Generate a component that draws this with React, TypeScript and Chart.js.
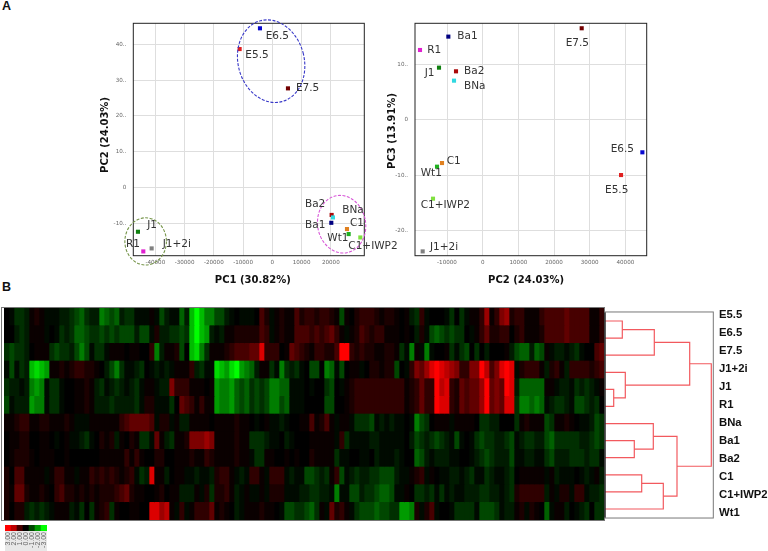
import React, { useEffect, useRef } from "react";
import { Chart, registerables } from "chart.js";

Chart.register(...registerables);

// ---------- PCA data ----------
const pc1Samples = ["E6.5", "E5.5", "E7.5", "Ba2", "BNa", "Ba1", "C1", "Wt1", "C1+IWP2", "J1", "J1+2i", "R1"];
const pc1X = [-4217, -11170, 5356, 20285, 20740, 20170, 25530, 26100, 30090, -45930, -41250, -44100];
const pc2Y = [44.5, 38.7, 27.7, -7.7, -8.4, -9.9, -11.65, -13.05, -14, -12.4, -17.06, -17.9];
const pcColors = ["#0808d0", "#e02020", "#720000", "#aa0808", "#30d8e0", "#000080", "#e08020", "#20b020", "#80e040", "#108010", "#808080", "#e020d0"];

const pc3Samples = ["E7.5", "Ba1", "R1", "J1", "Ba2", "BNa", "E6.5", "C1", "Wt1", "E5.5", "C1+IWP2", "J1+2i"];
const pc2X = [27757, -9626, -17570, -12243, -7477, -8037, 44766, -11400, -12800, 38785, -13925, -16820];
const pc3Y = [16.6, 15.09, 12.67, 9.47, 8.81, 7.12, -5.85, -7.79, -8.45, -9.96, -14.24, -23.78];
const pc3Colors = ["#720000", "#000080", "#e020d0", "#108010", "#aa0808", "#30d8e0", "#0808d0", "#e08020", "#20b020", "#e02020", "#80e040", "#808080"];

// tick values
const pc1Ticks = [-40000, -30000, -20000, -10000, 0, 10000, 20000];
const pc2LeftTicks = [-10, 0, 10, 20, 30, 40];
const pc2BottomTicks = [-10000, 0, 10000, 20000, 30000, 40000];
const pc3Ticks = [-20, -10, 0, 10];

// cluster ellipses of the PC1/PC2 panel: centre and half-axes in data units
const clusterCentreX = [-400, 23700, -43300];
const clusterCentreY = [35.3, -10.3, -15.1];
const clusterRadiusX = [11300, 8200, 7100];
const clusterRadiusY = [11.7, 8.1, 6.6];
const clusterColors = ["#3838c8", "#d858d8", "#76954a"];
const clusterTilt = [-0.26, -0.18, 0];

// ---------- Heat map data (rows top to bottom, 120 columns; + red, - green) ----------
const heatLabels = ["E5.5", "E6.5", "E7.5", "J1+2i", "J1", "R1", "BNa", "Ba1", "Ba2", "C1", "C1+IWP2", "Wt1"];
const rowE55 = [
  0,-1,-3,-3,-2,1,2,1,-1,-1,-1,-2,-2,-3,-4,-5,-3,-2,-2,-6,
  -5,-4,-5,-2,-3,-3,-1,-1,-1,1,-1,-4,-2,-1,-1,-5,-2,-8,-10,-8,
  -6,-6,-4,-4,-2,-1,0,-1,-1,-1,0,4,2,-1,1,2,1,1,4,2,
  3,3,2,3,3,2,1,-4,1,0,2,3,3,3,2,1,2,2,1,0,
  1,-2,-3,3,-1,0,0,0,-1,-3,0,-3,-1,1,1,3,7,1,3,6,
  7,2,3,3,1,1,1,3,4,4,4,4,5,4,4,4,4,1,1,3,
];
const rowE65 = [
  0,0,-2,-3,-2,1,1,1,-1,0,-1,-3,-2,-3,-5,-5,-4,-3,-3,-4,
  -3,-4,-3,-4,-4,-4,-2,-4,-4,-1,2,-2,-2,-3,-3,-4,-3,-8,-10,-8,
  -7,-2,-1,-2,1,1,2,2,2,2,2,4,3,-1,1,2,1,1,4,4,
  4,3,4,3,4,5,3,1,-1,1,2,4,3,2,3,3,1,1,1,0,
  1,0,-2,2,-1,-4,-5,-4,-3,-4,-3,-3,0,-1,1,3,5,2,2,3,
  3,0,2,3,1,1,1,2,4,4,4,4,5,4,4,4,4,1,1,3,
];
const rowE75 = [
  -3,-4,-3,-3,-2,0,1,1,1,-3,-4,-3,-3,-2,-4,-6,-4,-1,-3,-3,
  -1,1,1,1,0,1,1,0,0,3,-6,-2,1,1,2,-4,0,-8,-9,-6,
  -3,1,1,1,2,3,4,4,4,5,5,9,3,3,3,0,1,5,4,3,
  2,1,3,3,2,2,4,10,10,3,2,3,2,2,1,1,2,2,1,-3,
  -1,-6,1,-1,-6,-1,0,0,1,-3,-1,-3,-4,0,-3,0,-2,0,0,0,
  1,-2,-4,-5,-5,-2,-5,-4,1,-1,-2,-2,-1,-2,-3,-1,0,0,4,5,
];
const rowJ12i = [
  -1,-4,-1,-3,-2,-8,-9,-8,-7,1,1,2,1,2,3,3,2,2,1,0,
  -2,-4,-6,-3,-1,-1,-2,-3,0,-1,-2,-1,-2,-1,1,1,1,3,-2,-3,
  -1,-1,-9,-8,-7,-9,-10,-7,-6,-5,-2,1,1,-3,-1,-6,-3,-2,-3,-1,
  0,-4,-4,0,-6,-5,-1,-4,0,1,1,-1,0,2,2,1,2,2,-4,0,
  -1,3,6,5,7,9,10,9,8,7,6,3,3,6,6,10,8,4,6,9,
  10,9,-1,2,3,3,3,1,-2,2,3,1,-2,3,3,3,3,2,3,4,
];
const rowJ1 = [
  -3,-2,-2,-1,-2,-6,-7,-6,-1,-3,-3,-1,0,0,1,1,2,1,-2,-3,
  -1,-2,-3,-2,-1,-2,-3,-1,1,1,-1,-2,-2,6,3,3,3,1,1,1,
  0,1,-7,-6,-6,-7,-5,-4,-5,-3,-4,-3,-4,-6,-6,-5,-5,-1,-1,-1,
  0,-1,0,0,-3,-4,0,-1,1,2,3,3,3,3,3,3,3,3,3,3,
  1,2,3,5,3,3,10,8,9,3,2,5,4,5,5,7,10,5,6,5,
  10,9,-2,-5,-5,-5,-5,-5,1,1,-1,-2,-2,-1,-3,-2,-3,-2,-1,1,
];
const rowR1 = [
  -4,-1,-2,-2,-2,-7,-6,-6,-1,-3,-3,-1,0,0,1,1,2,1,-2,-2,
  -2,-3,-2,-2,-2,-2,-3,-1,2,2,-1,-1,-1,-3,0,5,4,3,1,3,
  1,1,-7,-6,-6,-7,-5,-4,-5,-3,-4,-3,-4,-6,-6,-4,-5,-1,-1,-1,
  0,0,0,0,-4,-4,0,0,1,2,3,3,3,3,3,3,3,3,3,3,
  1,2,3,5,3,3,10,9,9,3,2,5,4,5,5,7,10,5,6,5,
  9,9,-3,-6,-6,-5,-6,-5,-1,-2,-3,-3,-2,-1,-4,-4,-3,-2,-3,0,
];
const rowBNa = [
  1,1,2,3,3,1,1,2,2,1,1,1,2,1,-1,-1,-1,1,1,1,
  1,1,1,3,4,5,5,5,5,4,-1,2,2,-1,1,-2,-2,1,1,1,
  1,0,1,1,1,1,2,1,1,0,-1,0,1,-1,-1,-2,-1,0,0,1,
  1,4,1,2,4,1,-1,1,1,-1,-3,-3,-3,-4,-1,-2,-1,-2,-1,-1,
  0,-1,-6,-4,-3,0,1,1,1,-1,1,1,1,1,0,-3,-3,-2,-2,0,
  0,0,-3,1,2,1,1,1,-4,-3,1,1,2,1,0,-1,-1,-2,-4,-3,
];
const rowBa1 = [
  0,1,1,2,2,0,0,1,1,0,-1,0,1,-1,-1,-2,-3,-1,0,2,
  1,2,-2,1,0,2,1,-3,-3,-1,5,1,-2,-3,1,1,2,6,6,6,
  7,6,1,1,1,1,2,1,1,-3,-3,-3,-2,-1,-1,0,-2,-1,0,0,
  0,1,1,1,1,1,-1,3,-3,-1,-1,-1,-1,-2,-2,-1,-1,-1,-1,-1,
  0,-2,-4,-3,-2,-3,-4,-3,-2,-1,-4,-1,0,-1,-3,-4,-3,-3,-2,-2,
  -3,-4,-1,-2,-3,-3,-2,-2,-4,-5,-3,-3,-3,-3,-3,-2,-2,-3,-4,-3,
];
const rowBa2 = [
  0,1,2,2,2,1,0,1,1,1,0,0,1,0,0,0,0,0,0,1,
  1,1,1,1,3,1,3,1,0,0,2,2,0,0,1,1,1,2,1,1,
  3,2,1,1,1,1,2,1,1,-1,-3,-3,1,1,0,0,1,0,1,0,
  0,2,1,1,1,1,-3,-1,-1,0,0,-1,-1,0,-2,-1,-1,-1,-2,-1,
  0,0,-5,-4,-2,-1,-2,-2,-2,-1,-1,0,0,-1,-2,-3,-4,-3,-2,-2,
  -2,-4,-1,-1,-2,-2,-1,-1,-3,-4,-2,-2,-2,-3,-3,-3,-2,-3,-3,-1,
];
const rowC1 = [
  2,0,4,4,1,1,1,1,-1,1,3,3,1,1,-1,1,1,3,2,3,
  2,3,2,1,2,3,-1,-3,-2,9,1,1,-2,0,1,1,-1,-1,-2,-1,
  -1,-2,2,3,3,1,-1,-2,-1,3,3,1,-1,3,3,3,-1,-2,-1,-1,
  -4,-4,-3,-2,-3,1,3,-4,-1,-2,-3,-2,-2,-3,-3,-4,-4,-4,-2,-1,
  -1,1,2,3,-1,1,0,-1,-1,-2,-2,-1,-2,-3,-1,-1,-3,-2,-1,-1,
  -2,-3,0,1,1,1,1,1,-1,1,-2,-1,-1,-1,0,-1,-2,-1,1,-2,
];
const rowC1IWP2 = [
  2,1,5,5,2,1,1,2,1,0,3,4,2,2,1,2,1,2,1,2,
  2,2,3,4,5,2,1,1,0,0,1,2,0,1,1,-2,-2,-2,1,-1,
  2,-3,2,2,3,1,-2,-1,1,-1,-1,1,-1,2,2,2,-1,-1,-1,-2,
  -2,-3,-3,-2,-2,-1,-6,-1,-1,-4,-4,-2,-3,-3,-4,-5,-5,-4,-1,-1,
  1,0,-3,-3,-2,-3,-1,-3,-1,-2,-1,-1,-2,-2,-2,-3,-3,-2,-2,-1,
  -2,-3,2,3,3,3,3,3,-2,1,-1,2,2,-1,3,3,-1,-2,-2,-3,
];
const rowWt1 = [
  2,0,2,2,-2,-3,-2,-3,-2,-1,1,1,1,-2,-1,-3,0,-3,1,2,
  3,-3,1,0,0,1,1,0,0,9,9,7,8,1,-1,3,-1,1,3,3,
  3,5,1,2,1,0,-2,-1,1,1,1,2,1,1,0,-1,-4,-4,-3,-3,
  -4,-5,-3,1,-1,5,2,3,1,-1,-3,-4,-4,-4,-5,-4,-4,-3,-3,-7,
  -7,-6,2,-1,2,4,-1,0,0,-1,-3,-3,-3,-3,-1,-4,-4,-4,-3,-1,
  -2,-2,1,2,-1,2,1,0,-5,-1,1,1,-2,0,-1,-2,-3,0,-3,-3,
];
const heatRows = [rowE55, rowE65, rowE75, rowJ12i, rowJ1, rowR1, rowBNa, rowBa1, rowBa2, rowC1, rowC1IWP2, rowWt1];

// Colour key
const keyLabels = ["3.00", "2.00", "1.00", "0.00", "-1.00", "-2.00", "-3.00"];
const keyLevels = [10, 8, 4, 0, -4, -7, -10];

// Dendrogram: children (0-11 leaves, 12+ earlier merges) and merge distance
const mergeLeft = [0, 12, 4, 3, 13, 7, 6, 9, 19, 18, 16];
const mergeRight = [1, 2, 5, 14, 15, 8, 17, 10, 11, 20, 21];
const mergeHeight = [17.3, 49.3, 8.7, 20.3, 84.7, 29.3, 48.3, 36.7, 58.3, 72, 106.3];

// ---------- helpers ----------
const heatColor = (v: number) => {
  const c = Math.round(Math.pow(Math.min(10, Math.abs(v)) / 10, 1.4) * 255);
  return v >= 0 ? `rgb(${c},0,0)` : `rgb(0,${c},0)`;
};

const sans = "'DejaVu Sans', sans-serif";

type ScatterSpec = {
  names: string[]; xs: number[]; ys: number[]; colors: string[];
  offsets: number[][]; xMin: number; xMax: number; yMin: number; yMax: number;
  xTicks: number[]; yTicks: number[]; yAxisWidth: number; padRight: number;
  xTitle: string; yTitle: string; xTitleShift: number; yTitleLeft: number; yTitleShift: number;
  ellipses?: boolean;
};

function scatterChart(canvas: HTMLCanvasElement, s: ScatterSpec) {
  const overlay = {
    id: "overlay",
    afterDatasetsDraw(chart: any) {
      const { ctx, chartArea: a, scales } = chart;
      ctx.save();
      ctx.strokeStyle = "#222";
      ctx.lineWidth = 1;
      ctx.strokeRect(a.left, a.top, a.right - a.left, a.bottom - a.top);
      if (s.ellipses) {
        ctx.lineWidth = 1.1;
        clusterCentreX.forEach((cx, i) => {
          const px = scales.x.getPixelForValue(cx);
          const py = scales.y.getPixelForValue(clusterCentreY[i]);
          const rx = Math.abs(scales.x.getPixelForValue(cx + clusterRadiusX[i]) - px);
          const ry = Math.abs(scales.y.getPixelForValue(clusterCentreY[i] + clusterRadiusY[i]) - py);
          ctx.beginPath();
          ctx.setLineDash([3, 1.5]);
          ctx.strokeStyle = clusterColors[i];
          ctx.ellipse(px, py, rx, ry, clusterTilt[i], 0, Math.PI * 2);
          ctx.stroke();
        });
        ctx.setLineDash([]);
      }
      ctx.fillStyle = "#333";
      ctx.font = `10.5px ${sans}`;
      ctx.textAlign = "left";
      ctx.textBaseline = "middle";
      s.names.forEach((n, i) => {
        ctx.fillText(
          n,
          scales.x.getPixelForValue(s.xs[i]) + s.offsets[i][0],
          scales.y.getPixelForValue(s.ys[i]) + s.offsets[i][1],
        );
      });
      ctx.fillStyle = "#111";
      ctx.font = `bold 10px ${sans}`;
      ctx.textAlign = "center";
      ctx.fillText(s.xTitle, (a.left + a.right) / 2 + s.xTitleShift, a.bottom + 25);
      ctx.translate(a.left - s.yTitleLeft, (a.top + a.bottom) / 2 + s.yTitleShift);
      ctx.rotate(-Math.PI / 2);
      ctx.fillText(s.yTitle, 0, 0);
      ctx.restore();
    },
  };
  return new Chart(canvas, {
    type: "scatter",
    data: {
      datasets: [{
        label: "samples",
        data: s.xs.map((x, i) => ({ x, y: s.ys[i] })),
        pointStyle: "rect",
        pointRadius: 2.9,
        pointBackgroundColor: s.colors,
        pointBorderWidth: 0,
        clip: false,
      }],
    },
    options: {
      animation: false,
      responsive: false,
      devicePixelRatio: 1,
      layout: { autoPadding: false, padding: { top: 23.3, right: s.padRight, left: 0, bottom: 0 } },
      plugins: { legend: { display: false }, tooltip: { enabled: false } },
      scales: {
        x: {
          type: "linear", min: s.xMin, max: s.xMax, bounds: "data",
          border: { display: false },
          grid: { drawTicks: false, color: "#dedede" },
          afterFit: (sc: any) => { sc.height = 39.3; },
          afterBuildTicks: (sc: any) => { sc.ticks = s.xTicks.map((value) => ({ value })); },
          ticks: {
            autoSkip: false, maxRotation: 0, padding: 3.5,
            color: "#666", font: { family: "DejaVu Sans", size: 5.6 },
            callback: (v: any) => String(v),
          },
        },
        y: {
          type: "linear", min: s.yMin, max: s.yMax, bounds: "data",
          border: { display: false },
          grid: { drawTicks: false, color: "#dedede" },
          afterFit: (sc: any) => { sc.width = s.yAxisWidth; },
          afterBuildTicks: (sc: any) => { sc.ticks = s.yTicks.map((value) => ({ value })); },
          ticks: {
            autoSkip: false, padding: 7,
            color: "#666", font: { family: "DejaVu Sans", size: 5.6 },
            callback: (v: any) => (v === 0 ? "0" : `${v}..`),
          },
        },
      },
    },
    plugins: [overlay],
  } as any);
}

function heatChart(canvas: HTMLCanvasElement) {
  const columns = heatRows[0].map((_, c) => c);
  const frame = {
    id: "frame",
    beforeDatasetsDraw(chart: any) {
      const { ctx, chartArea: a } = chart;
      ctx.save();
      ctx.fillStyle = "#000";
      ctx.fillRect(a.left, a.top, a.right - a.left, a.bottom - a.top);
      ctx.restore();
    },
    afterDatasetsDraw(chart: any) {
      const { ctx, chartArea: a } = chart;
      ctx.save();
      ctx.strokeStyle = "#777";
      ctx.lineWidth = 1;
      ctx.strokeRect(a.left - 2.5, a.top - 0.5, a.right - a.left + 3, a.bottom - a.top + 1);
      ctx.restore();
    },
  };
  return new Chart(canvas, {
    type: "bar",
    data: {
      labels: heatLabels,
      datasets: columns.map((c) => ({
        label: `c${c}`,
        data: heatRows.map(() => 1),
        backgroundColor: heatRows.map((r) => heatColor(r[c])),
        borderWidth: 0,
        barPercentage: 1,
        categoryPercentage: 1,
      })),
    },
    options: {
      indexAxis: "y",
      animation: false,
      responsive: false,
      devicePixelRatio: 1,
      layout: { autoPadding: false, padding: { left: 4, right: 2, top: 8, bottom: 10 } },
      plugins: { legend: { display: false }, tooltip: { enabled: false } },
      scales: {
        x: { type: "linear", stacked: true, min: 0, max: columns.length, display: false },
        y: { type: "category", stacked: true, display: false },
      },
    },
    plugins: [frame],
  } as any);
}

function dendroChart(canvas: HTMLCanvasElement) {
  const nodeY: number[] = heatLabels.map((_, i) => i);
  const nodeH: number[] = heatLabels.map(() => 0);
  const datasets = mergeHeight.map((h, k) => {
    const a = mergeLeft[k];
    const b = mergeRight[k];
    nodeY.push((nodeY[a] + nodeY[b]) / 2);
    nodeH.push(h);
    return {
      label: `m${k}`,
      showLine: true,
      pointRadius: 0,
      borderColor: "#f2595e",
      borderWidth: 1.2,
      data: [
        { x: nodeH[a], y: nodeY[a] },
        { x: h, y: nodeY[a] },
        { x: h, y: nodeY[b] },
        { x: nodeH[b], y: nodeY[b] },
      ],
    };
  });
  const frame = {
    id: "frame",
    afterDatasetsDraw(chart: any) {
      const { ctx, chartArea: a } = chart;
      ctx.save();
      ctx.lineWidth = 1;
      ctx.strokeStyle = "#777";
      ctx.strokeRect(a.left, a.top - 0.5, a.right - a.left, a.bottom - a.top + 1);
      ctx.strokeStyle = "#000";
      ctx.beginPath();
      ctx.moveTo(a.left, a.top);
      ctx.lineTo(a.left, a.bottom);
      ctx.stroke();
      ctx.restore();
    },
  };
  return new Chart(canvas, {
    type: "scatter",
    data: { datasets },
    options: {
      animation: false,
      responsive: false,
      devicePixelRatio: 1,
      layout: { autoPadding: false, padding: { left: 5, top: 8, bottom: 10, right: 0 } },
      plugins: { legend: { display: false }, tooltip: { enabled: false } },
      scales: {
        x: { type: "linear", min: 0, max: 108.3, display: false },
        y: { type: "linear", min: -0.5, max: 11.5, reverse: true, display: false },
        names: {
          type: "linear", position: "right", min: -0.156, max: 11.261, reverse: true, bounds: "data",
          border: { display: false },
          grid: { display: false, drawTicks: false },
          afterFit: (sc: any) => { sc.width = 54.7; },
          afterBuildTicks: (sc: any) => { sc.ticks = heatLabels.map((_, value) => ({ value })); },
          ticks: {
            autoSkip: false, padding: 5.7,
            color: "#111",
            font: { family: "Liberation Sans", size: 11.3, weight: "bold" },
            callback: (v: any) => heatLabels[v] ?? "",
          },
        },
      },
    },
    plugins: [frame],
  } as any);
}

function keyChart(canvas: HTMLCanvasElement) {
  const backdrop = {
    id: "backdrop",
    beforeDraw(chart: any) {
      const { ctx, chartArea: a, height } = chart;
      ctx.save();
      ctx.fillStyle = "#e8e8e8";
      ctx.fillRect(a.left, a.bottom, a.right - a.left, height - a.bottom);
      ctx.restore();
    },
  };
  return new Chart(canvas, {
    type: "bar",
    data: {
      labels: keyLabels,
      datasets: [{
        label: "key",
        data: keyLevels.map(() => 1),
        backgroundColor: keyLevels.map(heatColor),
        borderWidth: 0,
        barPercentage: 1,
        categoryPercentage: 1,
      }],
    },
    options: {
      animation: false,
      responsive: false,
      devicePixelRatio: 1,
      layout: { autoPadding: false, padding: { left: 5, right: 13, top: 5, bottom: 0 } },
      plugins: { legend: { display: false }, tooltip: { enabled: false } },
      scales: {
        x: {
          type: "category",
          border: { display: false },
          grid: { display: false, drawTicks: false },
          afterFit: (sc: any) => { sc.height = 20; },
          ticks: {
            autoSkip: false, minRotation: 90, maxRotation: 90, padding: 1,
            color: "#666", font: { family: "Liberation Sans", size: 7 },
          },
        },
        y: { type: "linear", min: 0, max: 1, display: false },
      },
    },
    plugins: [backdrop],
  } as any);
}

const pc12Offsets = [[5.7, 7.7], [5.7, 6.7], [8, 0], [-26.7, -10.3], [9.3, -7], [-26.3, 2.3], [3, -6], [-21.3, 4.3], [-12, 9.3], [9.3, -6.7], [11, -4.3], [-17.3, -7.3]];
const pc23Offsets = [[-16, 15], [9, -0.7], [7.3, 0.3], [-14.3, 5.7], [8, 0.3], [10, 5.3], [-31.7, -3], [4.7, -1.7], [-16.3, 7], [-16, 15], [-12.3, 7], [7.3, -4.3]];

const abs = (left: number, top: number, width: number, height: number, extra: any = {}) => ({
  position: "absolute" as const, left, top, width, height, display: "block", ...extra,
});

export default function App() {
  const a = useRef<HTMLCanvasElement>(null);
  const b = useRef<HTMLCanvasElement>(null);
  const h = useRef<HTMLCanvasElement>(null);
  const d = useRef<HTMLCanvasElement>(null);
  const k = useRef<HTMLCanvasElement>(null);

  useEffect(() => {
    const charts = [
      scatterChart(a.current!, {
        names: pc1Samples, xs: pc1X, ys: pc2Y, colors: pcColors, offsets: pc12Offsets,
        xMin: -47520, xMax: 31450, yMin: -19.1, yMax: 45.9,
        xTicks: pc1Ticks, yTicks: pc2LeftTicks,
        yAxisWidth: 43.3, padRight: 35.7,
        xTitle: "PC1 (30.82%)", yTitle: "PC2 (24.03%)",
        xTitleShift: 4, yTitleLeft: 27.6, yTitleShift: -4.5,
        ellipses: true,
      }),
      scatterChart(b.current!, {
        names: pc3Samples, xs: pc2X, ys: pc3Y, colors: pc3Colors, offsets: pc23Offsets,
        xMin: -18972, xMax: 45980, yMin: -24.56, yMax: 17.5,
        xTicks: pc2BottomTicks, yTicks: pc3Ticks,
        yAxisWidth: 30, padRight: 23.3,
        xTitle: "PC2 (24.03%)", yTitle: "PC3 (13.91%)",
        xTitleShift: -4.8, yTitleLeft: 22.3, yTitleShift: -8.5,
      }),
      heatChart(h.current!),
      dendroChart(d.current!),
      keyChart(k.current!),
    ];
    return () => charts.forEach((c) => c.destroy());
  }, []);

  const letter = (t: string, top: number) => (
    <div style={{ position: "absolute", left: 2, top, font: "bold 12.5px 'Liberation Sans', sans-serif", color: "#111", lineHeight: "13px" }}>{t}</div>
  );

  return (
    <div style={{ position: "absolute", left: 0, top: 0, width: 768, height: 551, overflow: "hidden", background: "#fff" }}>
      {letter("A", 0)}
      {letter("B", 281)}
      <canvas ref={a} width={310} height={295} style={abs(90, 0, 310, 295, { filter: "blur(0.3px)" })} />
      <canvas ref={b} width={285} height={295} style={abs(385, 0, 285, 295, { filter: "blur(0.3px)" })} />
      <canvas ref={h} width={606} height={230} style={abs(0, 300, 606, 230, { filter: "blur(0.6px)" })} />
      <canvas ref={d} width={168} height={230} style={abs(600, 300, 168, 230, { filter: "blur(0.3px)" })} />
      <canvas ref={k} width={60} height={31} style={abs(0, 520, 60, 31)} />
    </div>
  );
}
